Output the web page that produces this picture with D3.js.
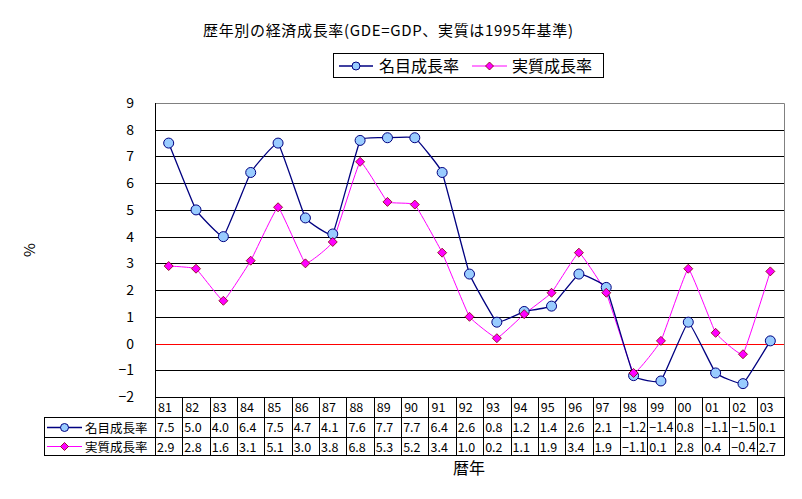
<!DOCTYPE html>
<html>
<head>
<meta charset="utf-8">
<script src="https://cdn.jsdelivr.net/npm/d3@7"></script>
<style>
  body { margin: 0; background: #fff; }
  text { font-family: "Noto Sans CJK JP", "Liberation Sans", sans-serif; fill: #000; }
</style>
</head>
<body>
<div id="chart"></div>
<script>
var years = ["81","82","83","84","85","86","87","88","89","90","91","92","93","94","95","96","97","98","99","00","01","02","03"];
var nominal = [7.5,5.0,4.0,6.4,7.5,4.7,4.1,7.6,7.7,7.7,6.4,2.6,0.8,1.2,1.4,2.6,2.1,-1.2,-1.4,0.8,-1.1,-1.5,0.1];
var real = [2.9,2.8,1.6,3.1,5.1,3.0,3.8,6.8,5.3,5.2,3.4,1.0,0.2,1.1,1.9,3.4,1.9,-1.1,0.1,2.8,0.4,-0.4,2.7];
var yTicks = [-2,-1,0,1,2,3,4,5,6,7,8,9];
var seriesNames = ["名目成長率", "実質成長率"];

var width = 802, height = 499;
// note: "top" is taken by window.top, so plot edges get their own names
var plotL = 155, plotR = 784, plotT = 103, plotB = 397;
var rowH = [20, 20, 18];

var svg = d3.select('#chart').append('svg')
  .attr('width', width).attr('height', height);

var x = d3.scaleBand().domain(years).range([plotL, plotR]).padding(0);
var y = d3.scaleLinear().domain([-2, 9]).range([plotB, plotT]);
var cx = d => x(d) + x.bandwidth()/2;

// title
svg.append('text')
  .attr('x', 388).attr('y', 36)
  .attr('text-anchor', 'middle')
  .style('font-size', '15px')
  .attr('textLength', 370).attr('lengthAdjust', 'spacing')
  .text('歴年別の経済成長率(GDE=GDP、実質は1995年基準)');

// gridlines
svg.append('g').selectAll('line')
  .data(yTicks.filter(t => t < 9))
  .enter().append('line')
  .attr('x1', plotL).attr('x2', plotR)
  .attr('y1', d => Math.round(y(d)) + 0.5).attr('y2', d => Math.round(y(d)) + 0.5)
  .attr('stroke', d => d === 0 ? '#ff0000' : '#000')
  .attr('stroke-width', 1);

// plot border top/right
svg.append('path')
  .attr('d', 'M' + plotL + ',' + (plotT + 0.5) + 'H' + (plotR + 0.5) + 'V' + plotB)
  .attr('fill', 'none').attr('stroke', '#808080');

// y axis line
svg.append('line')
  .attr('x1', plotL + 0.5).attr('x2', plotL + 0.5)
  .attr('y1', plotT).attr('y2', plotB)
  .attr('stroke', '#000');

// y tick labels
svg.append('g').selectAll('text')
  .data(yTicks)
  .enter().append('text')
  .attr('x', 134).attr('y', d => y(d) + 5)
  .attr('text-anchor', 'end')
  .style('font-size', '14px')
  .text(d => d < 0 ? '−' + Math.abs(d) : d);

svg.append('text')
  .attr('transform', 'translate(35,250) rotate(-90)')
  .attr('text-anchor', 'middle')
  .style('font-size', '15px')
  .text('%');

// lines, only lightly smoothed
var line = d3.line().x((d, i) => cx(years[i])).y(d => y(d)).curve(d3.curveCardinal.tension(0.75));

svg.append('path').datum(real)
  .attr('d', line).attr('fill', 'none').attr('stroke', '#ff00ff').attr('stroke-width', 1);
svg.append('path').datum(nominal)
  .attr('d', line).attr('fill', 'none').attr('stroke', '#000080').attr('stroke-width', 1.3);

var diamond = s => 'M0,' + (-s) + 'L' + s + ',0L0,' + s + 'L' + (-s) + ',0Z';

svg.append('g').selectAll('circle')
  .data(nominal).enter().append('circle')
  .attr('cx', (d, i) => cx(years[i])).attr('cy', d => y(d))
  .attr('r', 5).attr('fill', '#99ccff').attr('stroke', '#000080').attr('stroke-width', 1);

svg.append('g').selectAll('path')
  .data(real).enter().append('path')
  .attr('transform', (d, i) => 'translate(' + cx(years[i]) + ',' + y(d) + ')')
  .attr('d', diamond(4.5))
  .attr('fill', '#ff00ff').attr('stroke', '#800000').attr('stroke-width', 0.8);

// data table
var tbl = svg.append('g');
var r0 = plotB, r1 = r0 + rowH[0], r2 = r1 + rowH[1], r3 = r2 + rowH[2];
var tableLeft = 44;
[r1, r2, r3].forEach(function(yy) {
  tbl.append('line').attr('x1', tableLeft).attr('x2', plotR + 0.5)
    .attr('y1', yy + 0.5).attr('y2', yy + 0.5).attr('stroke', '#000');
});
tbl.selectAll('.col').data(years.concat(['end']))
  .enter().append('line')
  .attr('x1', d => (d === 'end' ? plotR : Math.round(x(d))) + 0.5)
  .attr('x2', d => (d === 'end' ? plotR : Math.round(x(d))) + 0.5)
  .attr('y1', r0).attr('y2', r3 + 0.5)
  .attr('stroke', '#000');
tbl.append('line').attr('x1', tableLeft + 0.5).attr('x2', tableLeft + 0.5)
  .attr('y1', r1).attr('y2', r3 + 0.5).attr('stroke', '#000');

var fmt = v => (v < 0 ? '−' : '') + Math.abs(v).toFixed(1);
tbl.selectAll('.yr').data(years).enter().append('text')
  .attr('x', d => x(d) + 3).attr('y', r0 + 15)
  .style('font-size', '12.5px').text(d => d);
[nominal, real].forEach(function(vals, k) {
  var yy = (k === 0 ? r1 : r2) + 15;
  tbl.append('g').selectAll('text').data(vals).enter().append('text')
    .attr('x', (d, i) => x(years[i]) + 2).attr('y', yy)
    .style('font-size', '12.5px').text(fmt);
});

// table legend keys
function key(g, k, x0, x1, yy) {
  var mx = (x0 + x1) / 2;
  g.append('line').attr('x1', x0).attr('x2', x1).attr('y1', yy).attr('y2', yy)
    .attr('stroke', k === 0 ? '#000080' : '#ff00ff').attr('stroke-width', k === 0 ? 1.3 : 1);
  if (k === 0)
    g.append('circle').attr('cx', mx).attr('cy', yy).attr('r', 4)
      .attr('fill', '#99ccff').attr('stroke', '#000080');
  else
    g.append('path').attr('transform', 'translate(' + mx + ',' + yy + ')').attr('d', diamond(4))
      .attr('fill', '#ff00ff').attr('stroke', '#800000').attr('stroke-width', 0.8);
}
seriesNames.forEach(function(n, k) {
  var yy = (k === 0 ? r1 + rowH[1]/2 : r2 + rowH[2]/2) + 0.5;
  key(tbl, k, 47, 82, yy);
  tbl.append('text').attr('x', 85).attr('y', yy + 5)
    .style('font-size', '12.5px').text(n);
});

svg.append('text')
  .attr('x', 469).attr('y', 474)
  .attr('text-anchor', 'middle')
  .style('font-size', '16px')
  .text('暦年');

// legend
var lg = svg.append('g');
lg.append('rect').attr('x', 333.5).attr('y', 53.5).attr('width', 270).attr('height', 24)
  .attr('fill', '#fff').attr('stroke', '#000');
key(lg, 0, 339, 373, 66);
lg.append('text').attr('x', 379).attr('y', 72).style('font-size', '16px').text(seriesNames[0]);
key(lg, 1, 472, 507, 66);
lg.append('text').attr('x', 512).attr('y', 72).style('font-size', '16px').text(seriesNames[1]);
</script>
</body>
</html>
